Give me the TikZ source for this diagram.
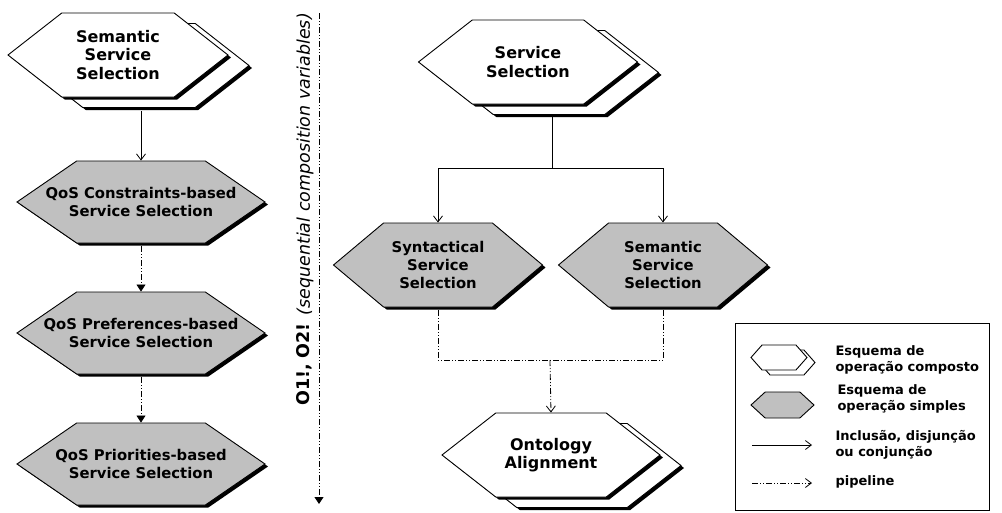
\documentclass[tikz,border=0pt]{standalone}
\usepackage{fontspec}
\setmainfont{DejaVu Sans}
\usetikzlibrary{shapes.symbols,shadows,arrows.meta}

\definecolor{hexgray}{RGB}{192,192,192}

\tikzset{
  hexbase/.style={shape=signal, signal to=east and west, draw=black,
    line width=0.9pt, inner sep=0pt},
  blackedge/.style={general shadow={shadow xshift=3pt, shadow yshift=-2.5pt, fill=black}},
  simpletext/.style={align=center, font=\bfseries\fontsize{14.8}{18}\selectfont},
  compoundtext/.style={align=center, font=\bfseries\fontsize{16}{18.5}\selectfont},
  simple/.style={hexbase, fill=hexgray, blackedge,
    label={[simpletext]center:#1}},
  compound/.style={hexbase, fill=white,
    general shadow={shadow xshift=24pt, shadow yshift=-13pt, fill=black},
    general shadow={shadow xshift=21pt, shadow yshift=-10.5pt, fill=white, draw=black},
    blackedge, minimum width=220, minimum height=84, signal pointer angle=76,
    label={[compoundtext]center:#1}},
  incl/.style={line width=0.8pt, -{Straight Barb[length=6pt,width=9pt]}},
  pipe/.style={line width=0.8pt,
    dash pattern=on 6pt off 2pt on 1pt off 2pt on 1pt off 2pt},
  seqarrow/.style={pipe, -{Triangle[length=7pt,width=9pt]}},
  pipearrow/.style={pipe, -{Straight Barb[length=6pt,width=9pt]}},
  legendtext/.style={anchor=west, align=left,
    font=\bfseries\fontsize{13}{16}\selectfont},
}

\begin{document}
\begin{tikzpicture}[x=1pt, y=-1pt]
  \useasboundingbox (0,0) rectangle (1002,512);

  % left column: refinement of semantic selection
  \node[compound={Semantic\\Service\\Selection}] (semsel) at (118,55) {};
  \node[simple={QoS Constraints-based\\Service Selection},
    minimum width=248, minimum height=82, signal pointer angle=69]
    (qoscons) at (141,202) {};
  \node[simple={QoS Preferences-based\\Service Selection},
    minimum width=248, minimum height=82, signal pointer angle=69]
    (qospref) at (141,333) {};
  \node[simple={QoS Priorities-based\\Service Selection},
    minimum width=248, minimum height=82, signal pointer angle=69]
    (qosprio) at (141,464) {};

  \coordinate (semout) at (141,111);
  \draw[incl] (semout) -- (qoscons.north);
  \draw[seqarrow] ([yshift=-3pt]qoscons.south) -- (qospref.north);
  \draw[seqarrow] ([yshift=-3pt]qospref.south) -- (qosprio.north);

  % sequential composition axis
  \coordinate (seqtop) at (319,13);
  \coordinate (seqbot) at (319,504);
  \draw[seqarrow] (seqtop) -- (seqbot);
  \node[rotate=90, font=\fontsize{17.5}{19}\selectfont] (seqlabel) at (305,209.5)
    {\textbf{O1!, O2!} \textit{(sequential composition variables)}};

  % right part: service selection
  \node[compound={Service\\Selection}, minimum width=219] (servsel) at (528,62) {};
  \node[simple={Syntactical\\Service\\Selection},
    minimum width=209, minimum height=84, signal pointer angle=80]
    (synsel) at (438,265) {};
  \node[simple={Semantic\\Service\\Selection},
    minimum width=209, minimum height=84, signal pointer angle=80]
    (semsel2) at (663,265) {};
  \node[compound={Ontology\\Alignment}, minimum width=218] (ontalign) at (551,455) {};

  \coordinate (split) at (552,168);
  \draw[line width=0.8pt] (552,114) -- (split);
  \draw[incl] (split) -| (synsel.north);
  \draw[incl] (split) -| (semsel2.north);

  \coordinate (join) at (550,360);
  \draw[pipe] ([yshift=-3pt]synsel.south) |- (join);
  \draw[pipe] ([yshift=-3pt]semsel2.south) |- (join);
  \draw[pipearrow] (join) -- (ontalign.north);

  % legend
  \node[draw=black, line width=0.9pt, minimum width=254, minimum height=187,
    inner sep=0pt] (legend) at (862,416.5) {};
  \node[hexbase, fill=white, minimum width=56, minimum height=25,
    signal pointer angle=97,
    general shadow={shadow xshift=8pt, shadow yshift=-5pt, fill=white, draw=black}]
    (legcomp) at (779,357.5) {};
  \node[hexbase, fill=hexgray, minimum width=63, minimum height=26,
    signal pointer angle=85] (legsimp) at (782.5,405) {};
  \coordinate (leginA) at (752,445);
  \coordinate (leginB) at (812,445);
  \draw[incl] (leginA) -- (leginB);
  \coordinate (legpipeA) at (752,483);
  \coordinate (legpipeB) at (812,483);
  \draw[pipearrow] (legpipeA) -- (legpipeB);

  \node[legendtext] (txtcomp) at (832,359.5) {Esquema de\\operação composto};
  \node[legendtext] (txtsimp) at (834,398.5) {Esquema de\\operação simples};
  \node[legendtext] (txtincl) at (832,445) {Inclusão, disjunção\\ou conjunção};
  \node[legendtext] (txtpipe) at (832,482) {pipeline};
\end{tikzpicture}
\end{document}
